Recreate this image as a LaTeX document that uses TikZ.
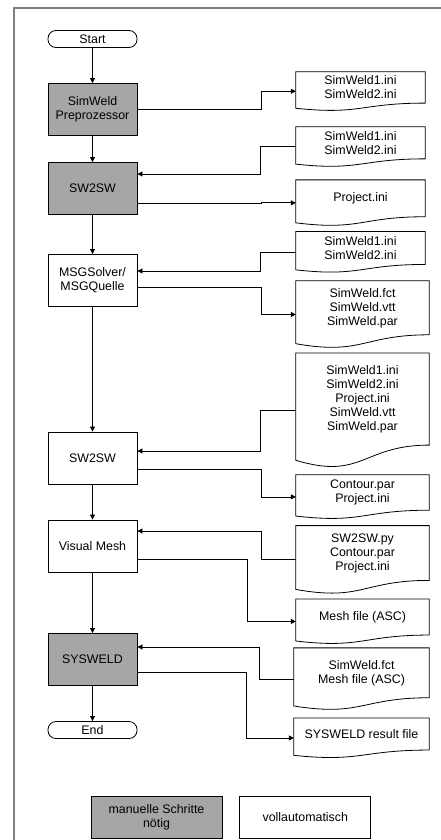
\documentclass[tikz,border=0pt]{standalone}
\usepackage{fontspec}
\setmainfont{Liberation Sans}
\usepackage{xcolor}
\usepackage{tikz}
\usetikzlibrary{arrows.meta,positioning,calc}
\definecolor{weldgray}{HTML}{A6A6A6}
\definecolor{weldframe}{HTML}{808080}
\newcommand{\weldfont}{\fontsize{12.4}{14}\selectfont}

\begin{document}
\begin{tikzpicture}[
    x=1pt, y=-1pt,
    node distance=6mm and 17pt,
    proc/.style={draw, line width=0.8pt, minimum width=89pt, minimum height=52pt,
      inner sep=0pt, align=center, font=\weldfont},
    manual/.style={proc, fill=weldgray},
    term/.style={draw, line width=0.8pt, rounded corners=8pt, minimum width=89pt,
      minimum height=17pt, inner sep=0pt, font=\weldfont},
    legend/.style={proc, minimum width=131pt, minimum height=42pt},
    doc/.style n args={2}{minimum width=#1pt, minimum height=#2pt, inner sep=0pt,
      align=center, font=\weldfont,
      append after command={\pgfextra{
        \draw[line width=0.8pt] (\tikzlastnode.north west) -- (\tikzlastnode.north east)
          -- (\tikzlastnode.south east)
          .. controls (\tikzlastnode.south) and ($(\tikzlastnode.north)!1.383!(\tikzlastnode.south)$)
          .. ($(\tikzlastnode.north west)!1.1646!(\tikzlastnode.south west)$) -- cycle;
        \coordinate (\tikzlastnode-port) at ($(\tikzlastnode.west)!0.246!(\tikzlastnode.south west)$);
      }}},
    arrow/.style={-{Triangle[length=5pt,width=5pt]}, line width=0.7pt},
    frame/.style={draw=weldframe, line width=1.2pt}
  ]
    \useasboundingbox (0,0) rectangle (441,840);
    \draw[frame] (441,8) -- (14,8) -- (14,840);

    % process column
    \node[term] (start) at (92.5,39) {Start};
    \node[manual] (prep) at (92.5,109.5) {SimWeld\\Preprozessor};
    \node[manual] (sw1) at (92.5,188.5) {SW2SW};
    \node[proc] (msg) at (92.5,280.5) {MSGSolver/\\MSGQuelle};
    \node[proc] (sw2) at (92.5,458) {SW2SW};
    \node[proc] (mesh) at (92.5,546) {Visual Mesh};
    \node[manual] (sysweld) at (92.5,659.5) {SYSWELD};
    \node[term] (end) at (92.5,730) {End};

    % files
    \node[doc={129}{31}] (d1) at (360.5,87.4) {SimWeld1.ini\\SimWeld2.ini};
    \node[doc={129}{31.7}] (d2) at (360.5,142.8) {SimWeld1.ini\\SimWeld2.ini};
    \node[doc={129}{36.5}] (d3) at (360.5,198.3) {Project.ini};
    \node[doc={129}{32.5}] (d4) at (360.5,248) {SimWeld1.ini\\SimWeld2.ini};
    \node[doc={133}{53.6}] (d5) at (362.5,307.8) {SimWeld.fct\\SimWeld.vtt\\SimWeld.par};
    \node[doc={133}{91.8}] (d6) at (362.5,399)
      {SimWeld1.ini\\SimWeld2.ini\\Project.ini\\SimWeld.vtt\\SimWeld.par};
    \node[doc={133}{35}] (d7) at (362.5,492.5) {Contour.par\\Project.ini};
    \node[doc={133}{54.4}] (d8) at (362.5,553) {SW2SW.py\\Contour.par\\Project.ini};
    \node[doc={133}{35.7}] (d9) at (362.5,617) {Mesh file (ASC)};
    \node[doc={135}{49.5}] (d10) at (361.5,672.8) {SimWeld.fct\\Mesh file (ASC)};
    \node[doc={135}{31.7}] (d11) at (361.5,734) {SYSWELD result file};

    % legend
    \node[legend, fill=weldgray] (legman) at (156.5,817) {manuelle Schritte\\nötig};
    \node[legend, right=of legman] (legauto) {vollautomatisch};

    \draw[arrow] (start) -- (prep);
    \draw[arrow] (prep) -- (sw1);
    \draw[arrow] (sw1) -- (msg);
    \draw[arrow] (msg) -- (sw2);
    \draw[arrow] (sw2) -- (mesh);
    \draw[arrow] (mesh) -- (sysweld);
    \draw[arrow] (sysweld) -- (end);

    \draw[arrow] (prep.east) -- ++(124,0) |- (d1-port);
    \draw[arrow] (d2-port) -- ++(-35,0) |- ([yshift=14.5pt]sw1.east);
    \draw[arrow] ([yshift=-14.5pt]sw1.east) -- ++(124,0) |- (d3-port);
    \draw[arrow] (d4-port) -- ++(-35,0) |- ([yshift=9.5pt]msg.east);
    \draw[arrow] ([yshift=-6.5pt]msg.east) -- ++(124,0) |- (d5-port);
    \draw[arrow] (d6-port) -- ++(-35,0) |- ([yshift=7pt]sw2.east);
    \draw[arrow] ([yshift=-11pt]sw2.east) -- ++(124,0) |- (d7-port);
    \draw[arrow] (d8-port) -- ++(-34,0) |- ([yshift=15pt]mesh.east);
    \draw[arrow] ([yshift=-13pt]mesh.east) -- ++(110,0) |- (d9-port);
    \draw[arrow] (d10-port) -- ++(-34,0) |- ([yshift=12.5pt]sysweld.east);
    \draw[arrow] ([yshift=-12.5pt]sysweld.east) -- ++(109,0) |- (d11-port);
  \end{tikzpicture}
\end{document}
